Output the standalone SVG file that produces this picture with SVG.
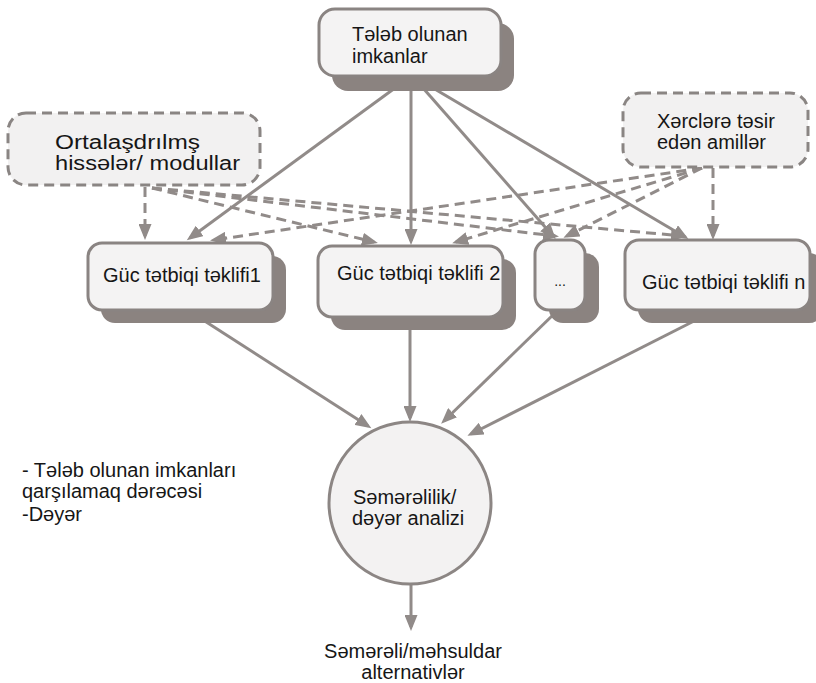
<svg xmlns="http://www.w3.org/2000/svg" width="816" height="683" viewBox="0 0 816 683">
  <style>
    text { font-family: "Liberation Sans", Arial, sans-serif; font-size: 20px; fill: #161616; }
    .shadow { fill: #8b8380; }
    .box { fill: #f4f3f3; stroke: #8a8482; stroke-width: 3; }
    .dbox { fill: #f2f1f1; stroke: #8a8583; stroke-width: 3; stroke-dasharray: 10 6; }
    .link { fill: none; stroke: #918b89; stroke-width: 3; marker-end: url(#arrow); }
    .dash { stroke-dasharray: 10 6; }
  </style>
  <defs>
    <marker id="arrow" markerUnits="userSpaceOnUse" markerWidth="17" markerHeight="13" refX="12" refY="6.5" orient="auto">
      <path d="M0,0 L16,6.5 L0,13 z" fill="#918b89"/>
    </marker>
  </defs>
  <rect width="816" height="683" fill="#ffffff"/>

  <!-- connectors -->
  <g id="connectors">
    <!-- required capabilities to each proposal -->
    <line class="link" x1="395" y1="88" x2="190" y2="238"/>
    <line class="link" x1="411" y1="88" x2="411" y2="241"/>
    <line class="link" x1="423" y1="88" x2="553" y2="236"/>
    <line class="link" x1="433" y1="88" x2="685" y2="237"/>
    <!-- centralised parts / modules -->
    <line class="link dash" x1="145" y1="187" x2="145" y2="236"/>
    <line class="link dash" x1="152" y1="188" x2="374" y2="242"/>
    <line class="link dash" x1="152" y1="188" x2="555" y2="236"/>
    <line class="link dash" x1="152" y1="188" x2="683" y2="236"/>
    <!-- cost factors -->
    <line class="link dash" x1="713" y1="168" x2="713" y2="236"/>
    <line class="link dash" x1="702" y1="168" x2="214" y2="240"/>
    <line class="link dash" x1="702" y1="168" x2="456" y2="242"/>
    <line class="link dash" x1="702" y1="168" x2="567" y2="236"/>
    <!-- proposals to analysis -->
    <line class="link" x1="200" y1="318" x2="368" y2="426"/>
    <line class="link" x1="410" y1="325" x2="410" y2="418"/>
    <line class="link" x1="555" y1="313" x2="444" y2="421"/>
    <line class="link" x1="700" y1="318" x2="471" y2="434"/>
    <!-- analysis to result -->
    <line class="link" x1="411" y1="585" x2="411" y2="627"/>
  </g>

  <g id="required">
    <rect class="shadow" x="332" y="23" width="182" height="68" rx="16"/>
    <rect class="box" x="319" y="9" width="182" height="67" rx="16"/>
    <text x="352" y="41">Tələb olunan</text>
    <text x="352" y="63">imkanlar</text>
  </g>

  <g id="modules">
    <rect class="dbox" x="8" y="113" width="252" height="72" rx="18"/>
    <text x="55" y="149" textLength="145" lengthAdjust="spacingAndGlyphs">Ortalaşdrılmş</text>
    <text x="55" y="170" textLength="185" lengthAdjust="spacingAndGlyphs">hissələr/ modullar</text>
  </g>

  <g id="costs">
    <rect class="dbox" x="623" y="93" width="185" height="74" rx="18"/>
    <text x="657" y="128">Xərclərə təsir</text>
    <text x="657" y="149">edən amillər</text>
  </g>

  <g id="proposal1">
    <rect class="shadow" x="101" y="256" width="185" height="67" rx="14"/>
    <rect class="box" x="88" y="243" width="185" height="67" rx="14"/>
    <text x="103" y="282">Güc tətbiqi təklifi1</text>
  </g>

  <g id="proposal2">
    <rect class="shadow" x="331" y="259" width="185" height="71" rx="14"/>
    <rect class="box" x="318" y="246" width="185" height="71" rx="14"/>
    <text x="337" y="280">Güc tətbiqi təklifi 2</text>
  </g>

  <g id="proposal-more">
    <rect class="shadow" x="549" y="253" width="50" height="70" rx="14"/>
    <rect class="box" x="535" y="240" width="50" height="70" rx="14"/>
    <text x="560" y="286" text-anchor="middle" style="font-size:14px">...</text>
  </g>

  <g id="proposal-n">
    <rect class="shadow" x="638" y="253" width="185" height="70" rx="14"/>
    <rect class="box" x="625" y="240" width="185" height="70" rx="14"/>
    <text x="642" y="289">Güc tətbiqi təklifi n</text>
  </g>

  <g id="criteria">
    <text x="22" y="477">- Tələb olunan imkanları</text>
    <text x="22" y="498">qarşılamaq dərəcəsi</text>
    <text x="22" y="521">-Dəyər</text>
  </g>

  <g id="analysis">
    <circle cx="410" cy="503" r="81" fill="#f3f2f2" stroke="#8c8684" stroke-width="3"/>
    <text x="353" y="504">Səmərəlilik/</text>
    <text x="352" y="525">dəyər analizi</text>
  </g>

  <g id="result">
    <text x="413" y="658" text-anchor="middle">Səmərəli/məhsuldar</text>
    <text x="413" y="679" text-anchor="middle">alternativlər</text>
  </g>
</svg>
